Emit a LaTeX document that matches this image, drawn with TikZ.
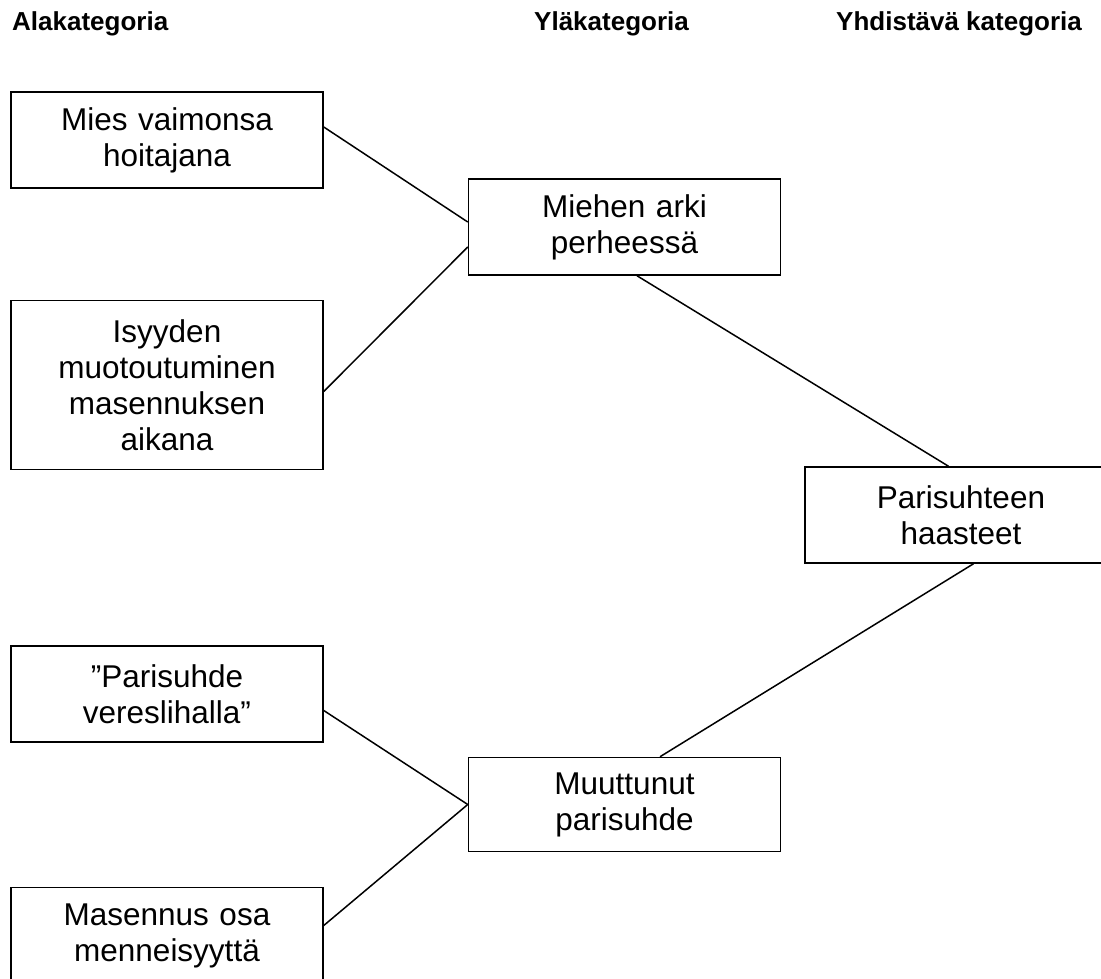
\documentclass[tikz,border=0pt]{standalone}
\usepackage{fontspec}
\setmainfont{Liberation Sans}
\usetikzlibrary{positioning}

\begin{document}
\begin{tikzpicture}[
    x=1pt, y=-1pt,
    catbox/.style={rectangle, draw, line width=1.5pt, text width=300pt, align=center, minimum width=312pt, minimum height=96pt, inner sep=0pt, font=\fontsize{31.5}{36}\selectfont},
    header/.style={anchor=base west, inner sep=0pt, font=\fontsize{26}{30}\selectfont\bfseries},
    link/.style={line width=1.5pt}
]
\useasboundingbox (0,0) rectangle (1101,979);

% Headers
\node[header] (subhead) at (12,30.5) {Alakategoria};
\node[header] (uphead) at (534,30.5) {Yläkategoria};
\node[header] (joinhead) at (836,30.5) {Yhdistävä kategoria};

% Alakategoriat
\node[catbox] (caring) at (167,140) {Mies vaimonsa\\hoitajana};
\node[catbox, minimum height=169pt, below=111pt of caring] (fatherhood) {Isyyden\\muotoutuminen\\masennuksen\\aikana};
\node[catbox, below=175pt of fatherhood] (raw) {”Parisuhde\\vereslihalla”};
\node[catbox, below=144pt of raw] (past) {Masennus osa\\menneisyyttä};

% Yläkategoriat
\node[catbox, right=144pt of caring, yshift=-87pt] (daily) {Miehen arki\\perheessä};
\node[catbox, minimum height=94pt, right=144pt of raw, yshift=-110.5pt] (changed) {Muuttunut\\parisuhde};

% Yhdistävä kategoria
\node[catbox, right=23pt of daily, yshift=-288pt] (challenges) {Parisuhteen\\haasteet};

% Lines
\draw[link] ([yshift=13pt]caring.east) -- ([yshift=5pt]daily.west);
\draw[link] ([yshift=-6.5pt]fatherhood.east) -- ([yshift=-20pt]daily.west);
\draw[link] ([xshift=12.5pt]daily.south) -- ([xshift=-12.5pt]challenges.north);
\draw[link] ([xshift=12.5pt]challenges.south) -- ([xshift=35.5pt]changed.north);
\draw[link] ([yshift=-16.5pt]raw.east) -- (changed.west);
\draw[link] ([yshift=10pt]past.east) -- (changed.west);

\end{tikzpicture}
\end{document}
